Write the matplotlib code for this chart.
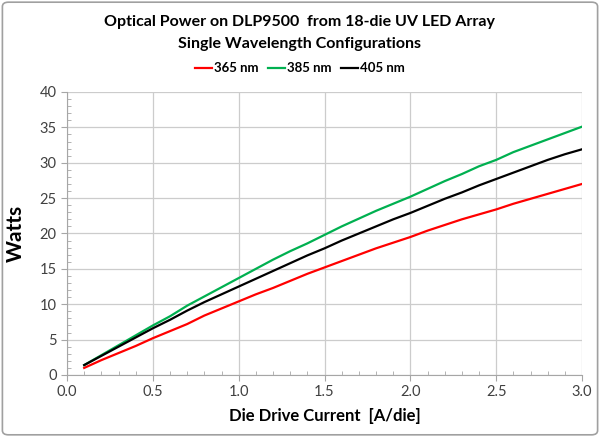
"""Optical power vs die drive current for the DLP9500 UV LED array."""
from matplotlib import pyplot as plt
from matplotlib.patches import FancyBboxPatch
from matplotlib.ticker import MultipleLocator

plt.rcParams['font.family'] = ['Lato', 'DejaVu Sans']

current = [0.1, 0.2, 0.3, 0.4, 0.5, 0.6, 0.7, 0.8, 0.9, 1.0,
           1.1, 1.2, 1.3, 1.4, 1.5, 1.6, 1.7, 1.8, 1.9, 2.0,
           2.1, 2.2, 2.3, 2.4, 2.5, 2.6, 2.7, 2.8, 2.9, 3.0]
watts_365 = [1.0, 2.1, 3.1, 4.1, 5.2, 6.2, 7.2, 8.4, 9.4, 10.4,
             11.4, 12.3, 13.3, 14.3, 15.2, 16.1, 17.0, 17.9, 18.7, 19.5,
             20.4, 21.2, 22.0, 22.7, 23.4, 24.2, 24.9, 25.6, 26.3, 27.0]
watts_385 = [1.4, 2.8, 4.2, 5.6, 7.0, 8.3, 9.8, 11.1, 12.4, 13.7,
             15.0, 16.3, 17.5, 18.6, 19.8, 21.0, 22.1, 23.2, 24.2, 25.2,
             26.3, 27.4, 28.4, 29.5, 30.4, 31.5, 32.4, 33.3, 34.2, 35.1]
watts_405 = [1.4, 2.7, 4.0, 5.3, 6.6, 7.8, 9.1, 10.3, 11.4, 12.5,
             13.6, 14.7, 15.8, 16.9, 17.9, 19.0, 20.0, 21.0, 22.0, 22.9,
             23.9, 24.9, 25.8, 26.8, 27.7, 28.6, 29.5, 30.4, 31.2, 31.9]

fig = plt.figure(figsize=(6, 4.37), dpi=100)
ax = fig.add_axes([0.1117, 0.1419, 0.8583, 0.6476])

ax.plot(current, watts_365, color='#ff0000', lw=1.6, label='365 nm')
ax.plot(current, watts_385, color='#00b050', lw=1.6, label='385 nm')
ax.plot(current, watts_405, color='black', lw=1.6, label='405 nm')

ax.set_xlim(0, 3.0)
ax.set_ylim(0, 40)
ax.xaxis.set_major_locator(MultipleLocator(0.5))
ax.xaxis.set_minor_locator(MultipleLocator(0.1))
ax.yaxis.set_major_locator(MultipleLocator(5))
ax.yaxis.set_minor_locator(MultipleLocator(1))
ax.xaxis.set_major_formatter(lambda v, p: f'{v:.1f}')
ax.grid(True, which='major', color='#cccccc', lw=0.9)
ax.set_axisbelow(True)
for side in ('top', 'right'):
    ax.spines[side].set_visible(False)
for side in ('left', 'bottom'):
    ax.spines[side].set_color('#a6a6a6')
ax.tick_params(which='major', direction='out', length=4, color='#a6a6a6',
               labelsize=10.5, labelcolor='#404040')
ax.tick_params(which='minor', direction='in', length=3, color='#a6a6a6')

ax.set_xlabel('Die Drive Current  [A/die]', fontsize=12, fontweight='bold',
              labelpad=6)
ax.set_ylabel('Watts', fontsize=15, fontweight='bold', labelpad=10)

fig.text(0.5, 0.949, 'Optical Power on DLP9500  from 18-die UV LED Array',
         ha='center', va='center', fontsize=11.5, fontweight='bold')
fig.text(0.5, 0.899, 'Single Wavelength Configurations',
         ha='center', va='center', fontsize=11.5, fontweight='bold')
fig.legend(loc='center', bbox_to_anchor=(0.5, 0.844), ncol=3, frameon=False,
           handlelength=1.3, handletextpad=0.15, columnspacing=0.7,
           prop={'weight': 'bold', 'size': 9.5})

fig.patches.append(FancyBboxPatch((0.004, 0.005), 0.992, 0.99,
                                  boxstyle='round,pad=0,rounding_size=0.01',
                                  transform=fig.transFigure, fill=False,
                                  edgecolor='#a0a0a0', lw=1.2))

fig.savefig('out.png', dpi=100)
